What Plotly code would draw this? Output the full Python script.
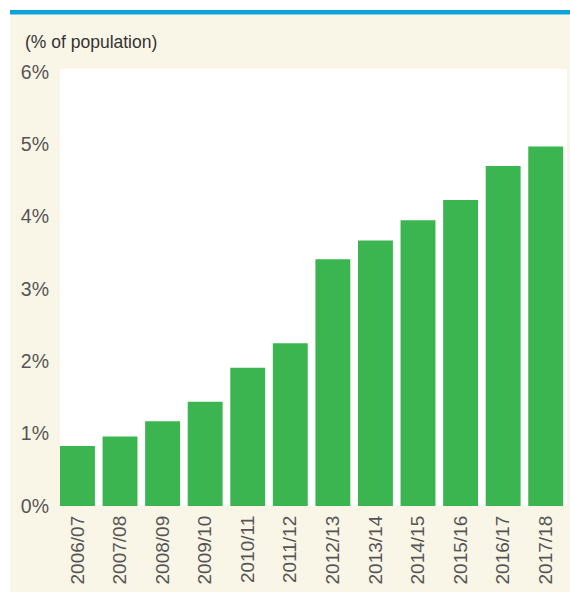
import plotly.graph_objects as go

# Share of population, by financial year
years = ["2006/07", "2007/08", "2008/09", "2009/10", "2010/11", "2011/12",
         "2012/13", "2013/14", "2014/15", "2015/16", "2016/17", "2017/18"]
share_pct = [0.83, 0.96, 1.17, 1.44, 1.91, 2.25, 3.41, 3.67, 3.95, 4.23, 4.70, 4.97]
y_ticks = [0, 1, 2, 3, 4, 5, 6]
y_tick_text = ["0%", "1%", "2%", "3%", "4%", "5%", "6%"]

W, H = 570, 594
L, R, T, B = 60, 3, 69, 88
pw, ph = W - L - R, H - T - B

CREAM = "#FAF6E7"
GREEN = "#3BB54F"
BLUE = "#0CA2DC"
FONT = "Liberation Sans, Arial, sans-serif"


def px_x(x):
    return (x - L) / pw


def px_y(y):
    return (H - B - y) / ph


fig = go.Figure(go.Bar(x=list(range(len(years))), y=share_pct,
                       marker=dict(color=GREEN, line=dict(width=0)),
                       hoverinfo="skip"))

shapes = [
    # white surround outside the panel
    dict(type="rect", xref="paper", yref="paper", x0=px_x(0), x1=px_x(10),
         y0=px_y(H), y1=px_y(0), fillcolor="white", line=dict(width=0), layer="below"),
    dict(type="rect", xref="paper", yref="paper", x0=px_x(0), x1=px_x(W),
         y0=px_y(10), y1=px_y(0), fillcolor="white", line=dict(width=0), layer="below"),
    dict(type="rect", xref="paper", yref="paper", x0=px_x(0), x1=px_x(W),
         y0=px_y(H), y1=px_y(592), fillcolor="white", line=dict(width=0), layer="below"),
    # blue rule along the top
    dict(type="rect", xref="paper", yref="paper", x0=px_x(10), x1=px_x(W),
         y0=px_y(14.5), y1=px_y(10), fillcolor=BLUE, line=dict(width=0), layer="below"),
]

fig.update_layout(
    width=W, height=H,
    margin=dict(l=L, r=R, t=T, b=B, pad=0),
    paper_bgcolor=CREAM, plot_bgcolor="white",
    bargap=0.18, showlegend=False,
    shapes=shapes,
    font=dict(family=FONT, color="#555555", size=18),
    annotations=[dict(text="(% of population)", xref="paper", yref="paper",
                      x=px_x(23), y=px_y(42), xanchor="left", yanchor="middle",
                      showarrow=False, font=dict(family=FONT, size=17.5, color="#333333"))],
)
fig.update_xaxes(range=[-0.41, 11.5], tickmode="array",
                 tickvals=list(range(len(years))), ticktext=years,
                 tickangle=-90, tickfont=dict(size=19, color="#555555"),
                 showgrid=False, zeroline=False, showline=False, ticks="",
                 ticklabelstandoff=5)
fig.update_yaxes(range=[0, 6.04], tickmode="array", tickvals=y_ticks,
                 ticktext=y_tick_text, tickfont=dict(size=19.5, color="#555555"),
                 showgrid=False, zeroline=False, showline=False, ticks="",
                 ticklabelstandoff=10)

fig.write_html("out.html")
